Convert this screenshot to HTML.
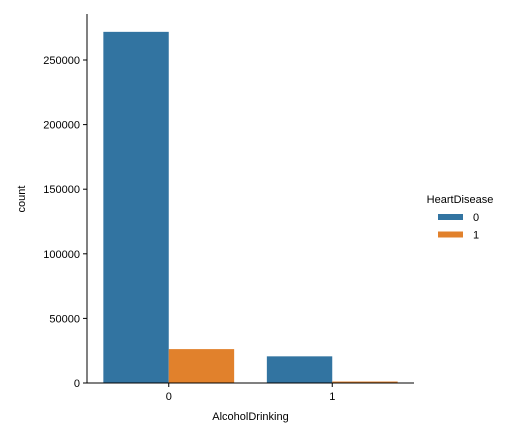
<!DOCTYPE html>
<html><head><meta charset="utf-8"><style>
body{margin:0;background:#fff}
svg{display:block;font-family:"Liberation Sans","DejaVu Sans",sans-serif}
</style></head><body>
<svg id="chart" width="532" height="438"></svg>
<script>
const categories = ["0", "1"];
const hueLabels = ["0", "1"];
const seriesNo = [271786, 20636];
const seriesYes = [26232, 1141];
const yTicks = [0, 50000, 100000, 150000, 200000, 250000];

const colors = ["#3274a1", "#e1812c"];
const NS = "http://www.w3.org/2000/svg";
const svg = document.getElementById("chart");
const x0 = 87, x1 = 414, yB = 383, yT = 14;
const yScale = v => yB - v * (64.6 / 50000);
const xScale = c => x0 + (c + 0.5) * (x1 - x0) / categories.length;
function mk(tag, attrs, text) {
  const e = document.createElementNS(NS, tag);
  for (const k in attrs) e.setAttribute(k, attrs[k]);
  if (text !== undefined) e.textContent = text;
  svg.appendChild(e);
  return e;
}
const series = [seriesNo, seriesYes];
const bw = 0.4 * (x1 - x0) / categories.length;
series.forEach((s, si) => {
  s.forEach((v, ci) => {
    const cx = xScale(ci);
    const r = mk("rect", {x: cx - bw + si * bw, y: yScale(v), width: bw, height: yB - yScale(v), fill: colors[si]});
    
    
  });
});
const ya = mk("line", {x1: x0, y1: yT, x2: x0, y2: yB, stroke: "#000", "stroke-width": 1});


const xa = mk("line", {x1: x0, y1: yB, x2: x1, y2: yB, stroke: "#000", "stroke-width": 1});


yTicks.forEach(t => {
  const y = yScale(t);
  const tk = mk("line", {x1: x0 - 4, y1: y, x2: x0, y2: y, stroke: "#000"});
  
  
  const lb = mk("text", {x: x0 - 7, y: y + 4, "text-anchor": "end", "font-size": 11}, String(t));
  
  
});
categories.forEach((c, i) => {
  const x = xScale(i);
  const tk = mk("line", {x1: x, y1: yB, x2: x, y2: yB + 4, stroke: "#000"});
  
  
  const lb = mk("text", {x: x, y: yB + 17, "text-anchor": "middle", "font-size": 11}, c);
  
  
});
const xt = mk("text", {x: (x0 + x1) / 2, y: 420, "text-anchor": "middle", "font-size": 11}, "AlcoholDrinking");


const yt = mk("text", {x: 25, y: 199, "text-anchor": "middle", "font-size": 11, transform: "rotate(-90 25 199)"}, "count");


const lt = mk("text", {x: 460, y: 203, "text-anchor": "middle", "font-size": 11}, "HeartDisease");


hueLabels.forEach((h, i) => {
  const y = 214 + i * 17.5;
  const p = mk("rect", {x: 438, y: y, width: 25, height: 6, fill: colors[i]});
  
  
  const l = mk("text", {x: 473, y: y + 7, "font-size": 11}, h);
  
  
});
</script>
</body></html>
